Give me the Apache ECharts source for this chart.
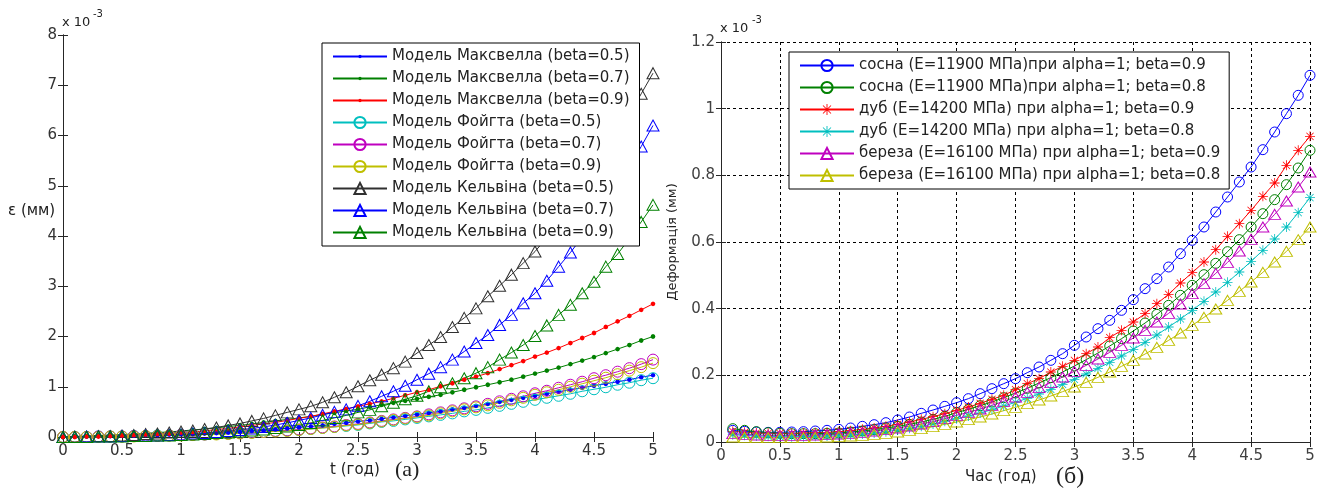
<!DOCTYPE html>
<html><head><meta charset="utf-8">
<script src="https://cdn.jsdelivr.net/npm/echarts@6/dist/echarts.min.js"></script>
<style>html,body{margin:0;padding:0;background:#fff}#c{width:1325px;height:488px}</style>
</head><body><div id="c"></div>
<script>
// ---------- DATA ----------
const tA = [0,0.1,0.2,0.3,0.4,0.5,0.6,0.7,0.8,0.9,1,1.1,1.2,1.3,1.4,1.5,1.6,1.7,1.8,1.9,2,2.1,2.2,2.3,2.4,2.5,2.6,2.7,2.8,2.9,3,3.1,3.2,3.3,3.4,3.5,3.6,3.7,3.8,3.9,4,4.1,4.2,4.3,4.4,4.5,4.6,4.7,4.8,4.9,5];
const tB = [0.1,0.2,0.3,0.4,0.5,0.6,0.7,0.8,0.9,1,1.1,1.2,1.3,1.4,1.5,1.6,1.7,1.8,1.9,2,2.1,2.2,2.3,2.4,2.5,2.6,2.7,2.8,2.9,3,3.1,3.2,3.3,3.4,3.5,3.6,3.7,3.8,3.9,4,4.1,4.2,4.3,4.4,4.5,4.6,4.7,4.8,4.9,5];

const namesA = ['Модель Максвелла (beta=0.5)','Модель Максвелла (beta=0.7)','Модель Максвелла (beta=0.9)',
  'Модель Фойгта (beta=0.5)','Модель Фойгта (beta=0.7)','Модель Фойгта (beta=0.9)',
  'Модель Кельвіна (beta=0.5)','Модель Кельвіна (beta=0.7)','Модель Кельвіна (beta=0.9)'];

const maxwell05 = [0,0.01,0.01,0.02,0.02,0.03,0.03,0.04,0.04,0.05,0.06,0.06,0.07,0.08,0.09,0.10,0.12,0.13,0.15,0.17,0.19,0.21,0.23,0.26,0.28,0.31,0.33,0.36,0.39,0.42,0.45,0.48,0.51,0.55,0.58,0.62,0.66,0.70,0.74,0.78,0.82,0.86,0.90,0.94,0.98,1.02,1.06,1.10,1.14,1.19,1.23];
const maxwell07 = [0,0.01,0.02,0.03,0.04,0.05,0.06,0.07,0.09,0.10,0.12,0.14,0.16,0.18,0.21,0.23,0.26,0.29,0.32,0.35,0.38,0.41,0.45,0.48,0.52,0.55,0.60,0.64,0.68,0.72,0.76,0.80,0.84,0.89,0.94,0.99,1.04,1.09,1.14,1.20,1.26,1.32,1.38,1.45,1.52,1.59,1.67,1.75,1.83,1.92,2.00];
const maxwell09 = [0,0.00,0.01,0.01,0.02,0.03,0.04,0.05,0.06,0.07,0.09,0.10,0.12,0.15,0.17,0.20,0.23,0.26,0.29,0.33,0.37,0.41,0.46,0.51,0.56,0.61,0.66,0.71,0.77,0.83,0.89,0.94,1.01,1.07,1.14,1.20,1.27,1.35,1.43,1.51,1.60,1.68,1.77,1.87,1.97,2.07,2.19,2.30,2.41,2.53,2.65];
const voigt05 = [0,0.00,0.00,0.01,0.01,0.01,0.02,0.02,0.03,0.03,0.04,0.05,0.05,0.06,0.07,0.08,0.09,0.10,0.12,0.13,0.14,0.16,0.18,0.20,0.22,0.24,0.27,0.30,0.32,0.35,0.38,0.41,0.44,0.47,0.51,0.54,0.58,0.62,0.66,0.70,0.74,0.78,0.82,0.86,0.91,0.95,0.99,1.04,1.08,1.13,1.17];
const voigt07 = [0,0.00,0.00,0.01,0.01,0.01,0.02,0.02,0.02,0.03,0.04,0.04,0.05,0.06,0.07,0.08,0.09,0.10,0.12,0.13,0.15,0.17,0.19,0.21,0.24,0.26,0.29,0.32,0.35,0.38,0.41,0.45,0.49,0.53,0.57,0.61,0.66,0.71,0.76,0.81,0.87,0.92,0.98,1.04,1.10,1.17,1.23,1.30,1.37,1.45,1.54];
const voigt09 = [0,0.00,0.00,0.00,0.01,0.01,0.01,0.02,0.02,0.03,0.03,0.04,0.05,0.05,0.06,0.07,0.08,0.10,0.11,0.12,0.14,0.16,0.18,0.20,0.23,0.25,0.28,0.31,0.34,0.37,0.40,0.43,0.47,0.51,0.55,0.59,0.63,0.68,0.73,0.78,0.84,0.89,0.94,1.00,1.06,1.12,1.18,1.25,1.32,1.39,1.47];
const kelvin05 = [0,0.01,0.01,0.02,0.02,0.03,0.04,0.06,0.07,0.09,0.11,0.13,0.16,0.19,0.23,0.27,0.32,0.37,0.43,0.49,0.55,0.61,0.69,0.79,0.89,1.01,1.13,1.24,1.37,1.50,1.67,1.83,1.99,2.19,2.37,2.56,2.80,3.01,3.23,3.46,3.69,3.97,4.27,4.59,4.92,5.27,5.64,6.02,6.42,6.83,7.24];
const kelvin07 = [0,0.00,0.01,0.01,0.01,0.02,0.02,0.03,0.03,0.04,0.05,0.07,0.08,0.10,0.12,0.14,0.17,0.20,0.24,0.28,0.33,0.38,0.44,0.50,0.55,0.62,0.71,0.81,0.91,1.02,1.14,1.26,1.39,1.54,1.70,1.87,2.03,2.23,2.43,2.66,2.86,3.11,3.39,3.67,3.98,4.30,4.64,5.00,5.38,5.78,6.20];
const kelvin09 = [0,0.00,0.00,0.01,0.01,0.01,0.02,0.02,0.03,0.03,0.04,0.05,0.06,0.08,0.09,0.11,0.13,0.15,0.18,0.21,0.24,0.28,0.33,0.38,0.43,0.49,0.54,0.61,0.68,0.75,0.82,0.91,0.99,1.07,1.17,1.27,1.39,1.54,1.68,1.83,2.01,2.22,2.43,2.63,2.86,3.09,3.39,3.64,3.95,4.28,4.62];

const namesB = ['сосна (E=11900 МПа)при alpha=1; beta=0.9','сосна (E=11900 МПа)при alpha=1; beta=0.8',
  'дуб (E=14200 МПа) при alpha=1; beta=0.9','дуб (E=14200 МПа) при alpha=1; beta=0.8',
  'береза (E=16100 МПа) при alpha=1; beta=0.9','береза (E=16100 МПа) при alpha=1; beta=0.8'];

const pine09 = [0.035,0.032,0.030,0.029,0.029,0.030,0.031,0.033,0.035,0.038,0.042,0.047,0.052,0.058,0.066,0.075,0.086,0.096,0.107,0.118,0.130,0.145,0.160,0.175,0.190,0.208,0.225,0.245,0.265,0.290,0.315,0.340,0.365,0.395,0.427,0.460,0.490,0.525,0.565,0.605,0.645,0.690,0.735,0.780,0.825,0.877,0.930,0.985,1.040,1.100];
const pine08 = [0.040,0.035,0.031,0.028,0.026,0.025,0.025,0.025,0.026,0.027,0.030,0.033,0.037,0.042,0.047,0.053,0.060,0.068,0.077,0.088,0.098,0.109,0.120,0.133,0.147,0.161,0.177,0.193,0.210,0.228,0.247,0.267,0.288,0.310,0.333,0.357,0.383,0.410,0.440,0.470,0.502,0.536,0.571,0.607,0.645,0.685,0.727,0.772,0.822,0.875];
const oak09 = [0.032,0.029,0.027,0.026,0.026,0.026,0.027,0.028,0.029,0.031,0.034,0.038,0.042,0.047,0.053,0.060,0.068,0.076,0.085,0.095,0.105,0.116,0.128,0.140,0.157,0.175,0.190,0.210,0.227,0.245,0.265,0.285,0.313,0.335,0.360,0.385,0.415,0.443,0.477,0.508,0.540,0.577,0.617,0.655,0.695,0.737,0.777,0.830,0.875,0.917];
const oak08 = [0.022,0.020,0.018,0.017,0.016,0.016,0.016,0.017,0.018,0.019,0.021,0.024,0.027,0.031,0.036,0.041,0.047,0.054,0.062,0.070,0.078,0.087,0.097,0.108,0.119,0.131,0.144,0.158,0.173,0.188,0.204,0.221,0.239,0.258,0.278,0.299,0.321,0.345,0.369,0.395,0.422,0.450,0.479,0.510,0.542,0.575,0.609,0.645,0.688,0.733];
const birch09 = [0.025,0.023,0.021,0.020,0.020,0.020,0.020,0.021,0.022,0.024,0.026,0.029,0.033,0.037,0.042,0.048,0.054,0.061,0.070,0.080,0.089,0.099,0.110,0.122,0.135,0.149,0.163,0.178,0.195,0.212,0.230,0.249,0.269,0.290,0.312,0.335,0.360,0.386,0.414,0.445,0.475,0.506,0.539,0.573,0.608,0.645,0.683,0.723,0.765,0.810];
const birch08 = [0.015,0.014,0.013,0.013,0.013,0.013,0.013,0.014,0.015,0.016,0.018,0.020,0.023,0.026,0.030,0.035,0.040,0.046,0.053,0.060,0.067,0.075,0.084,0.094,0.104,0.115,0.126,0.138,0.151,0.165,0.179,0.194,0.210,0.227,0.245,0.264,0.284,0.305,0.327,0.350,0.374,0.399,0.425,0.452,0.480,0.509,0.540,0.572,0.607,0.645];

// ---------- STYLE ----------
const FONT = 'DejaVu Sans, Liberation Sans, Arial, sans-serif';
const SERIF = 'Liberation Serif, Times New Roman, serif';
const AX = '#262626';
const DOT = 'path://M-10,-10L-9.99,-10L-9.99,-9.99Z M10,10L9.99,10L9.99,9.99Z M3,0L2.1,2.1L0,3L-2.1,2.1L-3,0L-2.1,-2.1L0,-3L2.1,-2.1Z';
const STAR = 'path://M-0.8,-10L0.8,-10L0.8,10L-0.8,10Z M-10,-0.8L10,-0.8L10,0.8L-10,0.8Z M-6.6,-7.7L7.7,6.6L6.6,7.7L-7.7,-6.6Z M6.6,-7.7L7.7,-6.6L-6.6,7.7L-7.7,6.6Z';

function ser(name, t, vals, color, symbol, size, hollow, xi, yi) {
  return {
    name, type: 'line', xAxisIndex: xi, yAxisIndex: yi,
    data: t.map((x, i) => [x, vals[i]]),
    symbol, symbolSize: size, showSymbol: true, clip: false,
    animation: false,
    lineStyle: { color, width: 1 },
    itemStyle: hollow ? { color: 'rgba(255,255,255,0)', borderColor: color, borderWidth: 1 }
                      : { color, borderWidth: 0 },
    emphasis: { disabled: true }
  };
}

function boxAxes(gridIndex, xInt, yMax, yInt, splitDash, labelColor) {
  const tick = { inside: true, length: 5, lineStyle: { color: AX } };
  const line = { lineStyle: { color: AX, width: 1 } };
  const split = splitDash ? { show: true, lineStyle: { color: '#000', type: [3, 3], width: 1 } } : { show: false };
  const lab = { color: labelColor, fontSize: 15, fontFamily: FONT };
  return {
    x: [
      { gridIndex, type: 'value', min: 0, max: 5, interval: xInt, axisLine: line, axisTick: tick,
        axisLabel: Object.assign({ margin: 7 }, lab), splitLine: split },
      { gridIndex, type: 'value', position: 'top', min: 0, max: 5, interval: xInt, axisLine: line, axisTick: tick,
        axisLabel: { show: false }, splitLine: { show: false } }
    ],
    y: [
      { gridIndex, type: 'value', min: 0, max: yMax, interval: yInt, axisLine: line, axisTick: tick,
        axisLabel: Object.assign({ margin: 6 }, lab), splitLine: split },
      { gridIndex, type: 'value', position: 'right', min: 0, max: yMax, interval: yInt, axisLine: line, axisTick: tick,
        axisLabel: { show: false }, splitLine: { show: false } }
    ]
  };
}

const A = boxAxes(0, 0.5, 8, 1, false, '#333');
const B = boxAxes(1, 0.5, 1.2, 0.2, true, '#404040');

const series = [
  ser(namesA[0], tA, maxwell05, '#0000ff', DOT, 16, false, 0, 0),
  ser(namesA[1], tA, maxwell07, '#008000', DOT, 16, false, 0, 0),
  ser(namesA[2], tA, maxwell09, '#ff0000', DOT, 16, false, 0, 0),
  ser(namesA[3], tA, voigt05, '#00bfbf', 'circle', 11, true, 0, 0),
  ser(namesA[4], tA, voigt07, '#bf00bf', 'circle', 11, true, 0, 0),
  ser(namesA[5], tA, voigt09, '#bfbf00', 'circle', 11, true, 0, 0),
  ser(namesA[6], tA, kelvin05, '#303030', 'triangle', [12, 11], true, 0, 0),
  ser(namesA[7], tA, kelvin07, '#0000ff', 'triangle', [12, 11], true, 0, 0),
  ser(namesA[8], tA, kelvin09, '#008000', 'triangle', [12, 11], true, 0, 0),
  ser(namesB[0], tB, pine09, '#0000ff', 'circle', 10, true, 2, 2),
  ser(namesB[1], tB, pine08, '#008000', 'circle', 10, true, 2, 2),
  ser(namesB[2], tB, oak09, '#ff0000', STAR, 10, false, 2, 2),
  ser(namesB[3], tB, oak08, '#00bfbf', STAR, 10, false, 2, 2),
  ser(namesB[4], tB, birch09, '#bf00bf', 'triangle', [12, 10], true, 2, 2),
  ser(namesB[5], tB, birch08, '#bfbf00', 'triangle', [12, 10], true, 2, 2)
];

const legendBase = {
  orient: 'vertical', backgroundColor: '#fff', borderColor: '#000', borderWidth: 1,
  itemWidth: 54, itemHeight: 14, itemGap: 7, selectedMode: false,
  textStyle: { fontSize: 15, fontFamily: FONT, color: '#222' },
  z: 10
};

function txt(x, y, text, size, opts) {
  return Object.assign({ type: 'text', x, y, z: 20, silent: true,
    style: Object.assign({ text, fontSize: size, fontFamily: FONT, fill: '#222', verticalAlign: 'middle' }, (opts && opts.style) || {}) },
    opts && opts.el || {});
}

const option = {
  animation: false,
  backgroundColor: '#fff',
  grid: [
    { left: 63, top: 35, width: 590, height: 402 },
    { left: 721, top: 42, width: 589, height: 400 }
  ],
  xAxis: [...A.x, ...B.x],
  yAxis: [...A.y, ...B.y],
  legend: [
    Object.assign({}, legendBase, { left: 322, top: 43, data: namesA, padding: [6, 10, 6, 10] }),
    Object.assign({}, legendBase, { left: 789, top: 52, data: namesB, padding: [6, 9, 6, 10] })
  ],
  series,
  graphic: [
    txt(62, 23, 'x 10', 13),
    txt(93, 14, '-3', 10),
    txt(8, 211, 'ε (мм)', 15),
    txt(330, 470, 't (год)', 15),
    txt(395, 470, '(а)', 22, { style: { fontFamily: SERIF } }),
    txt(720, 29, 'x 10', 13),
    txt(752, 20, '-3', 10),
    txt(673, 242, 'Деформація (мм)', 13, { style: { align: 'center' }, el: { rotation: Math.PI / 2 } }),
    txt(965, 477, 'Час (год)', 15),
    txt(1056, 477, '(б)', 24, { style: { fontFamily: SERIF } })
  ]
};

const chart = echarts.init(document.getElementById('c'), null, { renderer: 'canvas' });
chart.setOption(option);
</script>
</body></html>
